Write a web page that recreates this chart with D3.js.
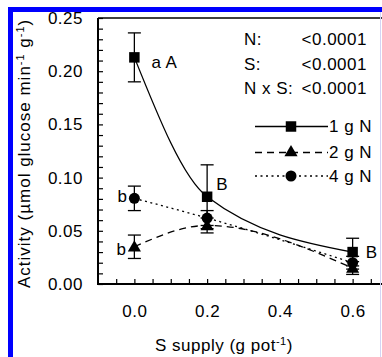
<!DOCTYPE html>
<html>
<head>
<meta charset="utf-8">
<script src="https://cdn.jsdelivr.net/npm/d3@7"></script>
<style>
  body { margin: 0; background: #fff; }
  svg text { font-family: "Liberation Sans", Arial, sans-serif; fill: #000; letter-spacing: 0.5px; }
</style>
</head>
<body>
<svg width="382" height="357"></svg>
<script>
// data
var sSupply = [0, 0.2, 0.6];
var n1 = [0.213, 0.082, 0.030],  n1Err = [0.023, 0.030, 0.013];
var n2 = [0.035, 0.055, 0.015],  n2Err = [0.011, 0.007, 0.006];
var n4 = [0.0805, 0.062, 0.020], n4Err = [0.0115, 0.007, 0.006];
var seriesNames = ["1 g N", "2 g N", "4 g N"];
var statLabels = ["N:", "S:", "N x S:"];
var statValues = ["<0.0001", "<0.0001", "<0.0001"];
var xTicks = [0, 0.2, 0.4, 0.6];
var yTicks = [0, 0.05, 0.10, 0.15, 0.20, 0.25];

var svg = d3.select("svg");

var x = d3.scaleLinear().domain([-0.1, 0.7]).range([98, 389]);
var y = d3.scaleLinear().domain([0, 0.25]).range([284, 18]);

// axes
var yAxis = d3.axisLeft(y)
  .tickValues(d3.range(0, 0.2501, 0.01))
  .tickSizeInner(-5).tickSizeOuter(0).tickPadding(15)
  .tickFormat(function(d) {
    var hit = yTicks.some(function(t) { return Math.abs(t - d) < 1e-6; });
    return hit ? d3.format(".2f")(d) : "";
  });
var xAxis = d3.axisBottom(x)
  .tickValues(d3.range(-0.05, 0.701, 0.05))
  .tickSizeInner(-5).tickSizeOuter(0).tickPadding(21)
  .tickFormat(function(d) {
    var hit = xTicks.some(function(t) { return Math.abs(t - d) < 1e-6; });
    return hit ? d3.format(".1f")(d) : "";
  });

var gy = svg.append("g").attr("transform", "translate(98,0)").call(yAxis);
var gx = svg.append("g").attr("transform", "translate(0,284)").call(xAxis);
[gy, gx].forEach(function(g) {
  g.select(".domain").remove();
  g.selectAll("line").attr("stroke", "#000").attr("stroke-width", 1.2);
  g.selectAll("text").style("font-size", "17px").attr("fill", "#000");
});

svg.append("line").attr("x1", 98).attr("x2", 382).attr("y1", 18).attr("y2", 18).attr("stroke", "#000").attr("stroke-width", 1.5);
svg.append("line").attr("x1", 98).attr("x2", 98).attr("y1", 18).attr("y2", 284).attr("stroke", "#000").attr("stroke-width", 2);
svg.append("line").attr("x1", 97).attr("x2", 382).attr("y1", 284).attr("y2", 284).attr("stroke", "#000").attr("stroke-width", 2);

// series
var series = [
  { vals: n1, err: n1Err, dash: null, shape: d3.symbolSquare, size: 110 },
  { vals: n2, err: n2Err, dash: "7,5", shape: d3.symbolTriangle, size: 75 },
  { vals: n4, err: n4Err, dash: "2,3.5", shape: d3.symbolCircle, size: 95 }
];

var line = d3.line()
  .x(function(d) { return x(d[0]); })
  .y(function(d) { return y(d[1]); })
  .curve(d3.curveMonotoneX);

series.forEach(function(s) {
  var pts = sSupply.map(function(v, i) { return [v, s.vals[i]]; });
  svg.append("path")
     .attr("d", line(pts))
     .attr("fill", "none")
     .attr("stroke", "#000")
     .attr("stroke-width", 1.3)
     .attr("stroke-dasharray", s.dash);
});

series.forEach(function(s) {
  sSupply.forEach(function(v, i) {
    var cx = x(v), lo = y(s.vals[i] - s.err[i]), hi = y(s.vals[i] + s.err[i]);
    var g = svg.append("g").attr("stroke", "#000").attr("stroke-width", 1.3);
    g.append("line").attr("x1", cx).attr("x2", cx).attr("y1", lo).attr("y2", hi);
    g.append("line").attr("x1", cx - 6.5).attr("x2", cx + 6.5).attr("y1", lo).attr("y2", lo);
    g.append("line").attr("x1", cx - 6.5).attr("x2", cx + 6.5).attr("y1", hi).attr("y2", hi);
  });
});

series.forEach(function(s) {
  sSupply.forEach(function(v, i) {
    svg.append("path")
       .attr("d", d3.symbol().type(s.shape).size(s.size)())
       .attr("transform", "translate(" + x(v) + "," + (y(s.vals[i]) + (s.shape === d3.symbolTriangle ? 1 : 0)) + ")")
       .attr("fill", "#000");
  });
});

// letters of the significance test
function letter(txt, px, py, anchor) {
  svg.append("text").attr("x", px).attr("y", py).attr("text-anchor", anchor || "start")
     .style("font-size", "17px").text(txt);
}
letter("a A", x(0) + 17, y(n1[0]) + 11);
letter("B", x(0.2) + 9, y(n1[1]) - 7);
letter("B", x(0.6) + 13, y(n1[2]) + 6);
letter("b", x(0) - 7, y(n4[0]) + 4, "end");
letter("b", x(0) - 8, y(n2[0]) + 8, "end");

// statistics block
statLabels.forEach(function(l, i) {
  var by = [45, 70, 94][i];
  letter(l, 244, by);
  letter(statValues[i], 367, by, "end");
});

// legend
var legRows = [126.5, 152.5, 176];
series.forEach(function(s, i) {
  var ly = legRows[i];
  svg.append("line").attr("x1", 255).attr("x2", 328).attr("y1", ly).attr("y2", ly)
     .attr("stroke", "#000").attr("stroke-width", 1.3).attr("stroke-dasharray", s.dash);
  svg.append("path")
     .attr("d", d3.symbol().type(s.shape).size(s.size)())
     .attr("transform", "translate(291," + ly + ")")
     .attr("fill", "#000");
  letter(seriesNames[i], 329, ly + 5.5);
});

// axis titles
var yt = svg.append("text")
  .attr("transform", "translate(30,288) rotate(-90)")
  .style("font-size", "17px").style("letter-spacing", "1px");
yt.append("tspan").text("Activity (µmol glucose min");
yt.append("tspan").attr("dy", -6).style("font-size", "11px").text("-1");
yt.append("tspan").attr("dy", 6).text(" g");
yt.append("tspan").attr("dy", -6).style("font-size", "11px").text("-1");
yt.append("tspan").attr("dy", 6).text(")");

var xt = svg.append("text")
  .attr("x", 155).attr("y", 351)
  .style("font-size", "17px");
xt.append("tspan").text("S supply (g pot");
xt.append("tspan").attr("dy", -6).style("font-size", "11px").text("-1");
xt.append("tspan").attr("dy", 6).text(")");

// frame of the picture, drawn last so it covers what it overlaps
svg.append("rect").attr("x", 8).attr("y", 7).attr("width", 5).attr("height", 350).attr("fill", "#0000ff");
svg.append("rect").attr("x", 8).attr("y", 7).attr("width", 374).attr("height", 5).attr("fill", "#0000ff");
svg.append("rect").attr("x", 380).attr("y", 12).attr("width", 1).attr("height", 345).attr("fill", "#d4d4f4");
</script>
</body>
</html>
